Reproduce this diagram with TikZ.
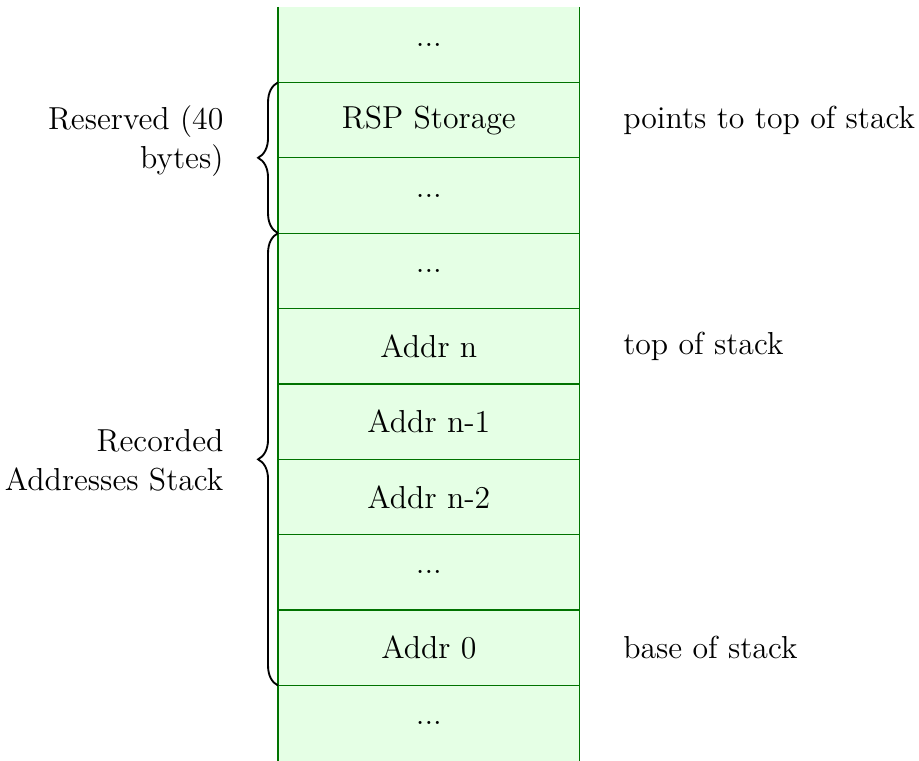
\documentclass[tikz,border=0pt]{standalone}
\usetikzlibrary{decorations.pathreplacing}
\definecolor{cellfill}{RGB}{229,255,229}
\definecolor{cellline}{RGB}{0,115,0}
\begin{document}
\begin{tikzpicture}[
  every node/.style={font=\fontsize{12}{14.5}\selectfont},
  cell/.style={fill=cellfill, minimum width=4.003cm, minimum height=1cm,
               inner sep=0pt, outer sep=0pt},
  rule/.style={draw=cellline, line width=0.5pt},
  bracedraw/.style={decorate, decoration={brace, amplitude=7.5pt},
                    line width=0.7pt},
  note/.style={anchor=west, inner sep=0pt},
  side/.style={anchor=east, align=right, inner sep=0pt}
]
\useasboundingbox (0,0) rectangle (12.19,10.093);

% memory cells, bottom to top
\node[cell] (r0) at (5.6885,0.5) {...};
\node[cell] (r1) at (5.6885,1.5) {Addr 0};
\node[cell] (r2) at (5.6885,2.5) {...};
\node[cell] (r3) at (5.6885,3.5) {Addr n-2};
\node[cell] (r4) at (5.6885,4.5) {Addr n-1};
\node[cell] (r5) at (5.6885,5.5) {Addr n};
\node[cell] (r6) at (5.6885,6.5) {...};
\node[cell] (r7) at (5.6885,7.5) {...};
\node[cell] (r8) at (5.6885,8.5) {RSP Storage};
\node[cell] (r9) at (5.6885,9.5) {...};

% cell separators
\foreach \k in {0,...,8}{
  \draw[rule] (r\k.north west) -- (r\k.north east);
}
% column sides, open at both ends
\draw[rule] (r9.north west) -- (r0.south west);
\draw[rule] (r9.north east) -- (r0.south east);

% notes on the right
\node[note] (n8) at (8.26,8.5) {points to top of stack};
\node[note] (n5) at (8.26,5.5) {top of stack};
\node[note] (n1) at (8.26,1.5) {base of stack};

% braces and their labels
\draw[bracedraw] (r7.south west) -- (r8.north west);
\draw[bracedraw] (r1.south west) -- (r6.north west);
\node[side] (lres) at (2.97,8.22) {Reserved (40\\bytes)};
\node[side] (lrec) at (2.97,3.99) {Recorded\\Addresses Stack};
\end{tikzpicture}
\end{document}
